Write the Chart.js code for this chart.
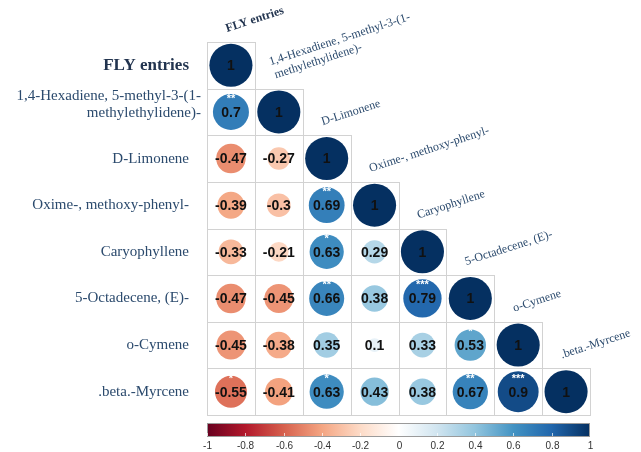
<!DOCTYPE html>
<html>
<head>
<meta charset="utf-8">
<script src="https://cdn.jsdelivr.net/npm/chart.js@4.4.0/dist/chart.umd.min.js"></script>
<style>
  html, body { margin: 0; padding: 0; background: #fff; }
  #wrap { width: 641px; height: 452px; }
</style>
</head>
<body>
<div id="wrap"><canvas id="corr" width="641" height="452"></canvas></div>
<script>
// variable names, left side and along the diagonal (split in lines)
const variables = [
  ['FLY entries'],
  ['1,4-Hexadiene, 5-methyl-3-(1-', 'methylethylidene)-'],
  ['D-Limonene'],
  ['Oxime-, methoxy-phenyl-'],
  ['Caryophyllene'],
  ['5-Octadecene, (E)-'],
  ['o-Cymene'],
  ['.beta.-Myrcene']
];

// lower triangle of the correlation matrix, row by row
const corrRows = [
  [1],
  [0.7, 1],
  [-0.47, -0.27, 1],
  [-0.39, -0.3, 0.69, 1],
  [-0.33, -0.21, 0.63, 0.29, 1],
  [-0.47, -0.45, 0.66, 0.38, 0.79, 1],
  [-0.45, -0.38, 0.35, 0.1, 0.33, 0.53, 1],
  [-0.55, -0.41, 0.63, 0.43, 0.38, 0.67, 0.9, 1]
];

// significance stars, same layout
const sigRows = [
  [''],
  ['**', ''],
  ['', '', ''],
  ['', '', '**', ''],
  ['', '', '*', '', ''],
  ['', '', '**', '', '***', ''],
  ['', '', '', '', '', '*', ''],
  ['*', '', '*', '', '', '**', '***', '']
];

const cbTicks = [-1, -0.8, -0.6, -0.4, -0.2, 0, 0.2, 0.4, 0.6, 0.8, 1];

// RdBu ramp, -1 .. 1
const rdbu = ['#67001F', '#B2182B', '#D6604D', '#F4A582', '#FDDBC7', '#FFFFFF',
              '#D1E5F0', '#92C5DE', '#4393C3', '#2166AC', '#053061'];

const labelColor = '#2B4A6D';
const n = variables.length;

function hexToRgb(h) {
  return [parseInt(h.slice(1, 3), 16), parseInt(h.slice(3, 5), 16), parseInt(h.slice(5, 7), 16)];
}

function corrColor(v) {
  let t = (v + 1) / 2 * (rdbu.length - 1);
  let i = Math.min(Math.floor(t), rdbu.length - 2);
  let f = t - i;
  let a = hexToRgb(rdbu[i]), b = hexToRgb(rdbu[i + 1]);
  let c = a.map((x, k) => Math.round(x + (b[k] - x) * f));
  return 'rgb(' + c.join(',') + ')';
}

function circleRadius(ctx) {
  const sx = ctx.chart.scales.x;
  const cell = sx.getPixelForValue(1) - sx.getPixelForValue(0);
  return cell * 0.45 * Math.sqrt(Math.abs(ctx.raw.v));
}

let points = [];
corrRows.forEach((row, i) => {
  row.forEach((v, j) => {
    points.push({x: j, y: i, v: v, sig: sigRows[i][j]});
  });
});

const corrDecor = {
  id: 'corrDecor',
  beforeDatasetsDraw(chart) {
    const {ctx, scales: {x, y}} = chart;
    ctx.save();
    ctx.strokeStyle = '#d2d2d2';
    ctx.lineWidth = 1;
    for (let i = 0; i < n; i++) {
      for (let j = 0; j <= i; j++) {
        let x0 = Math.round(x.getPixelForValue(j - 0.5)) + 0.5;
        let x1 = Math.round(x.getPixelForValue(j + 0.5)) + 0.5;
        let y0 = Math.round(y.getPixelForValue(i - 0.5)) + 0.5;
        let y1 = Math.round(y.getPixelForValue(i + 0.5)) + 0.5;
        ctx.strokeRect(x0, y0, x1 - x0, y1 - y0);
      }
    }
    ctx.restore();
  },
  afterDatasetsDraw(chart) {
    const {ctx} = chart;
    const meta = chart.getDatasetMeta(0);
    const data = chart.data.datasets[0].data;
    ctx.save();
    ctx.textAlign = 'center';
    ctx.textBaseline = 'middle';
    meta.data.forEach((pt, k) => {
      let d = data[k];
      ctx.fillStyle = '#111';
      ctx.font = 'bold 14px "Liberation Sans", Arial, sans-serif';
      ctx.fillText(String(d.v), pt.x, pt.y + 1);
      if (d.sig) {
        ctx.fillStyle = '#fff';
        ctx.font = 'bold 11px "Liberation Sans", Arial, sans-serif';
        ctx.fillText(d.sig, pt.x, pt.y - 13);
      }
    });
    ctx.restore();
  },
  afterDraw(chart) {
    const {ctx, scales: {x, y, cb}} = chart;
    ctx.save();

    // row labels
    ctx.textAlign = 'right';
    ctx.textBaseline = 'middle';
    variables.forEach((lines, i) => {
      let cy = y.getPixelForValue(i);
      if (i === 0) {
        ctx.font = 'bold 17px "Liberation Serif", "Times New Roman", serif';
        ctx.fillStyle = '#22344F';
      } else {
        ctx.font = '15px "Liberation Serif", "Times New Roman", serif';
        ctx.fillStyle = labelColor;
      }
      let lh = 17;
      let multi = lines.length > 1;
      let start = cy - (lines.length - 1) * lh / 2 - (multi ? 7 : 0);
      let right = multi ? 201 : 189;
      lines.forEach((s, k) => ctx.fillText(s, right, start + k * lh));
    });

    // column labels, tilted, next to the diagonal
    ctx.textAlign = 'left';
    ctx.textBaseline = 'alphabetic';
    variables.forEach((lines, j) => {
      let ax = x.getPixelForValue(j) - 4;
      let ay = y.getPixelForValue(j - 0.5) - 10;
      ctx.save();
      ctx.translate(ax, ay);
      ctx.rotate(-18 * Math.PI / 180);
      if (j === 0) {
        ctx.font = 'bold 12px "Liberation Serif", "Times New Roman", serif';
        ctx.fillStyle = '#22344F';
      } else {
        ctx.font = '12px "Liberation Serif", "Times New Roman", serif';
        ctx.fillStyle = labelColor;
      }
      let lh = 14;
      lines.forEach((s, k) => {
        ctx.fillText(s, k > 0 ? 1 : 0, (k - lines.length + 1) * lh);
      });
      ctx.restore();
    });

    // colour bar
    let left = cb.getPixelForValue(-1), right = cb.getPixelForValue(1);
    let top = 423, h = 13;
    let grad = ctx.createLinearGradient(left, 0, right, 0);
    rdbu.forEach((c, k) => grad.addColorStop(k / (rdbu.length - 1), c));
    ctx.fillStyle = grad;
    ctx.fillRect(left, top, right - left, h);
    ctx.strokeStyle = '#9a9a9a';
    ctx.lineWidth = 1;
    ctx.strokeRect(left + 0.5, top + 0.5, right - left - 1, h);

    ctx.fillStyle = '#333';
    ctx.font = '10px "Liberation Sans", Arial, sans-serif';
    ctx.textAlign = 'center';
    ctx.textBaseline = 'middle';
    cbTicks.forEach(t => {
      let px = Math.round(cb.getPixelForValue(t)) + 0.5;
      ctx.strokeStyle = 'rgba(255,255,255,0.7)';
      ctx.beginPath();
      ctx.moveTo(px, top + h - 3);
      ctx.lineTo(px, top + h);
      ctx.stroke();
      ctx.fillText(String(t), px, 446);
    });
    ctx.restore();
  }
};

new Chart(document.getElementById('corr'), {
  type: 'scatter',
  data: {
    datasets: [{
      data: points,
      pointRadius: circleRadius,
      pointHoverRadius: circleRadius,
      pointBackgroundColor: ctx => corrColor(ctx.raw.v),
      pointBorderWidth: 0,
      pointBorderColor: 'rgba(0,0,0,0)'
    }]
  },
  options: {
    responsive: false,
    animation: false,
    layout: { padding: { left: 207, right: 51, top: 42, bottom: 37 } },
    scales: {
      x: { type: 'linear', min: -0.5, max: 7.5, display: false },
      y: { type: 'linear', min: -0.5, max: 7.5, reverse: true, display: false },
      cb: { type: 'linear', axis: 'x', position: 'bottom', min: -1, max: 1, display: false }
    },
    plugins: {
      legend: { display: false },
      tooltip: { enabled: false }
    }
  },
  plugins: [corrDecor]
});
</script>
</body>
</html>
